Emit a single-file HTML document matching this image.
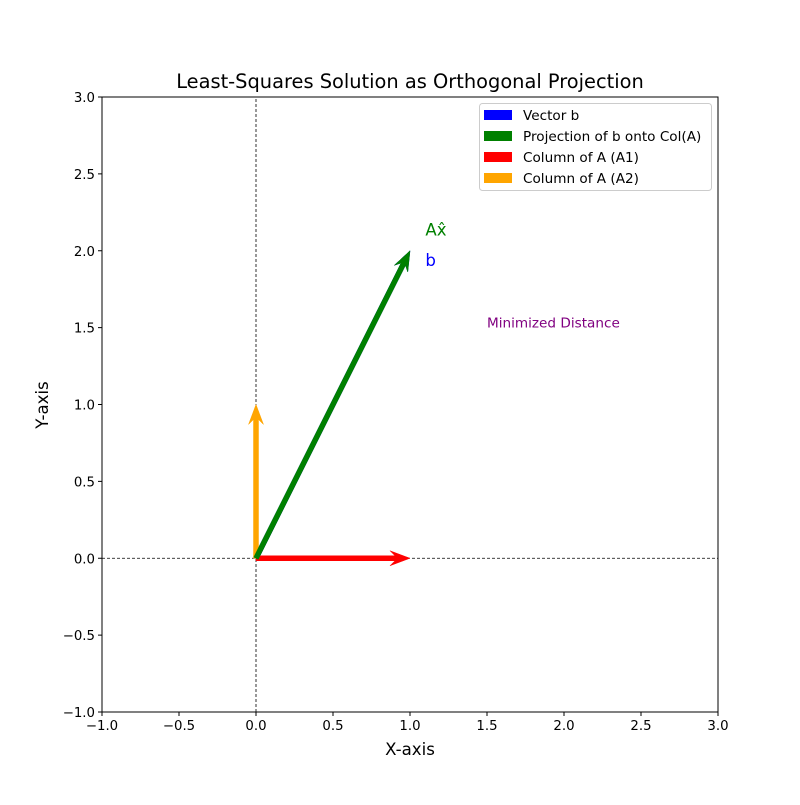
<!DOCTYPE html>
<html><head><meta charset="utf-8"><style>
body{margin:0;background:#fff}
svg{font-family:"DejaVu Sans","Liberation Sans",sans-serif}
</style></head><body>
<svg id="chart" width="800" height="800">
<rect width="800" height="800" fill="#fff"/>
<text x="410" y="88" font-size="19.4" text-anchor="middle">Least-Squares Solution as Orthogonal Projection</text>
<g id="plot"></g>
<text x="410" y="755" font-size="16.6" text-anchor="middle">X-axis</text>
<text x="48" y="405" font-size="16.6" text-anchor="middle" transform="rotate(-90 48 405)">Y-axis</text>
<g>
<rect x="479.5" y="103.5" width="232" height="87" rx="3" fill="#fff" stroke="#ccc"/>
<rect x="484" y="110" width="28" height="10" fill="blue"/><text x="523" y="120" font-size="13.6">Vector b</text>
<rect x="484" y="131" width="28" height="10" fill="green"/><text x="523" y="141" font-size="13.6">Projection of b onto Col(A)</text>
<rect x="484" y="152" width="28" height="10" fill="red"/><text x="523" y="162" font-size="13.6">Column of A (A1)</text>
<rect x="484" y="173" width="28" height="10" fill="orange"/><text x="523" y="183" font-size="13.6">Column of A (A2)</text>
</g>
</svg>
<script>
const xTicks=[-1,-0.5,0,0.5,1,1.5,2,2.5,3];
const yTicks=[-1,-0.5,0,0.5,1,1.5,2,2.5,3];
const vecNames=['vector-b','column-a2','column-a1','projection'];
const vecX=[1,0,1,1];
const vecY=[2,1,0,2];
const vecColors=['blue','orange','red','green'];
const labels=['Ax\u0302','b','Minimized Distance'];
const labelX=[1.1,1.1,1.5];
const labelY=[2.1,1.9,1.5];
const labelColors=['green','blue','purple'];
const labelSizes=[16.6,16.6,13.6];
const X0=102,X1=718,Y0=712,Y1=97;
const sx=v=>X0+(v+1)/4*(X1-X0);
const sy=v=>Y0-(v+1)/4*(Y0-Y1);
const g=document.getElementById('plot');
const NS='http://www.w3.org/2000/svg';
function mk(t,a){const e=document.createElementNS(NS,t);for(const k in a)e.setAttribute(k,a[k]);g.appendChild(e);return e;}
let e=mk('line',{x1:sx(-1),x2:sx(3),y1:sy(0),y2:sy(0),stroke:'#000','stroke-width':0.8,'stroke-dasharray':'3,2'});


e=mk('line',{x1:sx(0),x2:sx(0),y1:sy(-1),y2:sy(3),stroke:'#000','stroke-width':0.8,'stroke-dasharray':'3,2'});


vecX.forEach((vx,i)=>{
 const x0=sx(0),y0=sy(0),x1=sx(vx),y1=sy(vecY[i]);
 const dx=x1-x0,dy=y1-y0,L=Math.hypot(dx,dy),ux=dx/L,uy=dy/L,px=-uy,py=ux;
 const w=2.5,hw=7.5,hl=20,hb=15;
 const bx=x1-ux*hl,by=y1-uy*hl,cx=x1-ux*hb,cy=y1-uy*hb;
 const pts=[[x0+px*w,y0+py*w],[cx+px*w,cy+py*w],[bx+px*hw,by+py*hw],[x1,y1],[bx-px*hw,by-py*hw],[cx-px*w,cy-py*w],[x0-px*w,y0-py*w]];
 const p=mk('polygon',{points:pts.map(q=>q.join(',')).join(' '),fill:vecColors[i],stroke:vecColors[i],'stroke-width':0.5});
 
 
});
labels.forEach((t,i)=>{
 const el=mk('text',{x:sx(labelX[i]),y:sy(labelY[i]),fill:labelColors[i],'font-size':labelSizes[i]});
 el.textContent=t;
 
 
});
e=mk('rect',{x:X0,y:Y1,width:X1-X0,height:Y0-Y1,fill:'none',stroke:'#000','stroke-width':1});


xTicks.forEach(v=>{
 const x=sx(v);
 mk('line',{x1:x,x2:x,y1:Y0,y2:Y0+4,stroke:'#000'});
 const t=mk('text',{x:x,y:Y0+18,'font-size':13.3,'text-anchor':'middle'});
 t.textContent=(v<0?'\u2212':'')+Math.abs(v).toFixed(1);
 
 
});
yTicks.forEach(v=>{
 const y=sy(v);
 mk('line',{x1:X0-4,x2:X0,y1:y,y2:y,stroke:'#000'});
 const t=mk('text',{x:X0-7,y:y+5,'font-size':13.3,'text-anchor':'end'});
 t.textContent=(v<0?'\u2212':'')+Math.abs(v).toFixed(1);
 
 
});
</script>
</body></html>
